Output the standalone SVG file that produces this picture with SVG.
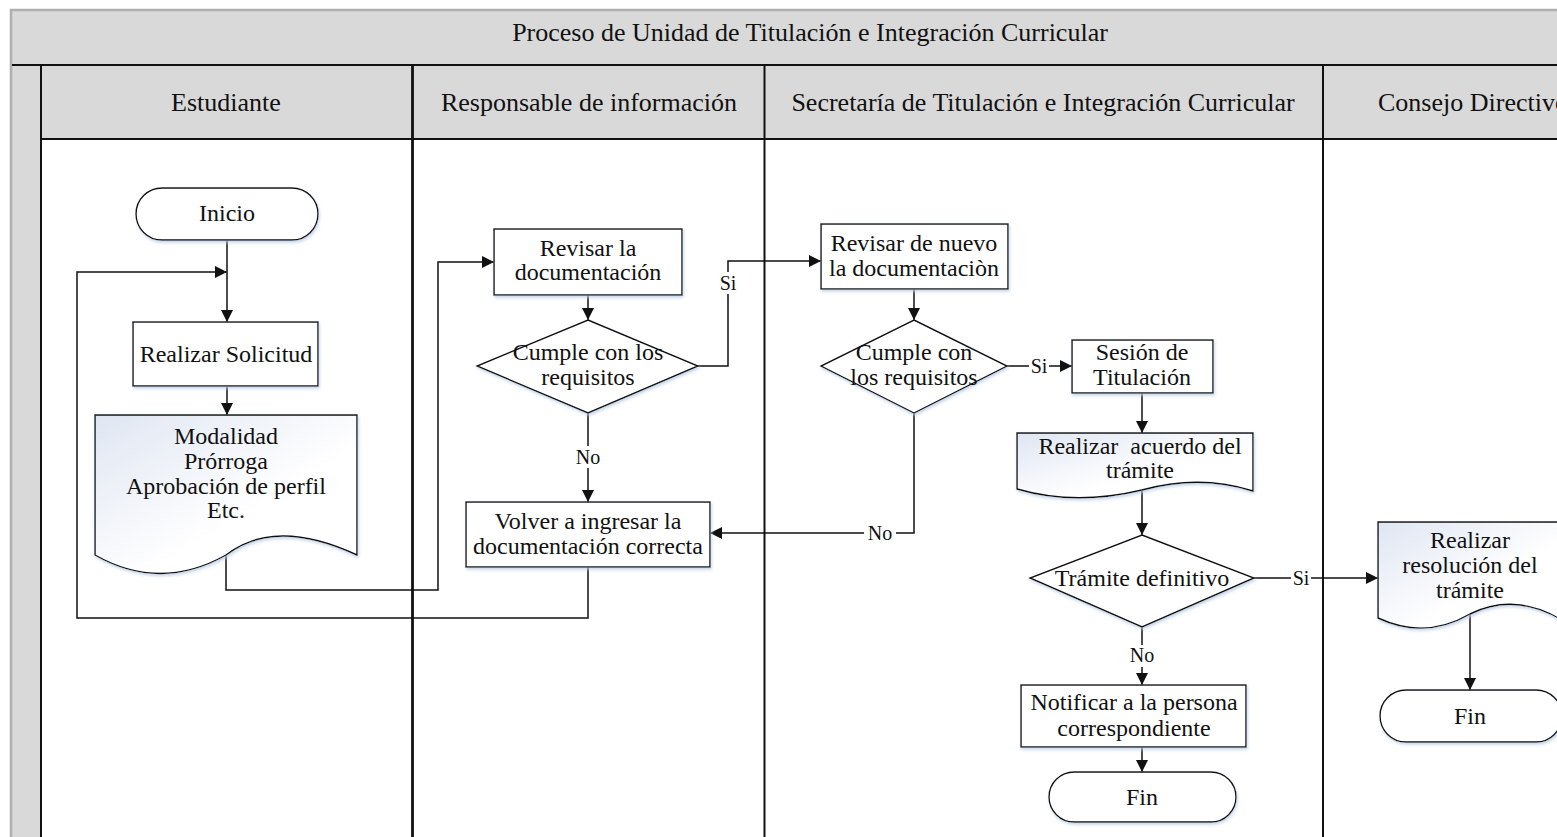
<svg xmlns="http://www.w3.org/2000/svg" width="1557" height="837" viewBox="0 0 1557 837">
<style>
text{font-family:"Liberation Serif","Times New Roman",serif;font-size:24px;fill:#111;text-anchor:middle}
.h{font-size:26px}
.lbl{font-size:20px}
.hdr{fill:#d9d9d9}
.shape{fill:#fff;stroke:#111;stroke-width:1.4;filter:url(#sh)}
.doc{fill:url(#docg);stroke:#111;stroke-width:1.4;filter:url(#sh)}
.conn path{fill:none;stroke:#111;stroke-width:1.5}
.lane{stroke:#111;fill:none}
.bg{fill:#fff}
</style>
<defs>
<linearGradient id="docg" x1="0" y1="0" x2="1" y2="1">
<stop offset="0" stop-color="#dfe6f2"/>
<stop offset="0.6" stop-color="#ffffff"/>
</linearGradient>
<filter id="sh" x="-10%" y="-10%" width="120%" height="130%">
<feDropShadow dx="1" dy="2" stdDeviation="1.5" flood-color="#b8cbe4" flood-opacity="0.8"/>
</filter>
<marker id="arr" markerUnits="userSpaceOnUse" markerWidth="12" markerHeight="12" refX="12" refY="6" orient="auto">
<path d="M0,0 L12,6 L0,12 z" fill="#111"/>
</marker>
</defs>
<rect width="1557" height="837" fill="#fff"/>
<g id="pool">
<rect x="11" y="10" width="1550" height="830" class="hdr" stroke="#b0b0b0" stroke-width="2.5"/>
<rect x="41" y="139" width="1520" height="700" fill="#fff"/>
<rect x="41" y="65" width="1520" height="74" class="hdr"/>
<line x1="12" y1="65" x2="1557" y2="65" class="lane" stroke-width="2"/>
<line x1="41" y1="139" x2="1557" y2="139" class="lane" stroke-width="2"/>
<line x1="41" y1="65" x2="41" y2="837" class="lane" stroke-width="2"/>
<line x1="412.5" y1="65" x2="412.5" y2="837" class="lane" stroke-width="2.8"/>
<line x1="764.5" y1="65" x2="764.5" y2="837" class="lane" stroke-width="2"/>
<line x1="1323" y1="65" x2="1323" y2="837" class="lane" stroke-width="2"/>
<text class="h" x="810" y="41">Proceso de Unidad de Titulación e Integración Curricular</text>
<text class="h" x="226" y="111">Estudiante</text>
<text class="h" x="589" y="111">Responsable de información</text>
<text class="h" x="1043" y="111">Secretaría de Titulación e Integración Curricular</text>
<text class="h" x="1378" y="111" style="text-anchor:start">Consejo Directivo</text>
</g>
<g id="connectors" class="conn">
<path d="M227,240 V322" marker-end="url(#arr)"/>
<path d="M588,567 V618 H77 V272 H227" marker-end="url(#arr)"/>
<path d="M227,386 V415" marker-end="url(#arr)"/>
<path d="M226,555 V590 H438 V262 H494" marker-end="url(#arr)"/>
<path d="M588,295 V320" marker-end="url(#arr)"/>
<path d="M698,366 H728 V261 H821" marker-end="url(#arr)"/>
<path d="M588,413 V502" marker-end="url(#arr)"/>
<path d="M914,289 V320" marker-end="url(#arr)"/>
<path d="M1007,366 H1072" marker-end="url(#arr)"/>
<path d="M914,413 V533 H710" marker-end="url(#arr)"/>
<path d="M1142,393 V433" marker-end="url(#arr)"/>
<path d="M1142,490 V535" marker-end="url(#arr)"/>
<path d="M1254,578 H1378" marker-end="url(#arr)"/>
<path d="M1142,627 V685" marker-end="url(#arr)"/>
<path d="M1142,747 V772" marker-end="url(#arr)"/>
<path d="M1470,614 V690" marker-end="url(#arr)"/>
<rect class="bg" x="718" y="272" width="20" height="22"/>
<text class="lbl" x="728" y="290">Si</text>
<rect class="bg" x="572" y="446" width="32" height="22"/>
<text class="lbl" x="588" y="464">No</text>
<rect class="bg" x="1029" y="355" width="20" height="22"/>
<text class="lbl" x="1039" y="373">Si</text>
<rect class="bg" x="864" y="522" width="32" height="22"/>
<text class="lbl" x="880" y="540">No</text>
<rect class="bg" x="1291" y="567" width="20" height="22"/>
<text class="lbl" x="1301" y="585">Si</text>
<rect class="bg" x="1126" y="645" width="32" height="22"/>
<text class="lbl" x="1142" y="662">No</text>
</g>
<g id="inicio">
<rect class="shape" x="136" y="188" width="182" height="52" rx="26"/>
<text x="227" y="221">Inicio</text>
</g>
<g id="realizar-solicitud">
<rect class="shape" x="133" y="322" width="185" height="64"/>
<text x="226" y="362">Realizar Solicitud</text>
</g>
<g id="doc-modalidad">
<path class="doc" d="M95,415 H357 V555 Q275,517 226,555 Q160,592 95,555 Z"/>
<text x="226" y="444">Modalidad</text>
<text x="226" y="469">Prórroga</text>
<text x="226" y="494">Aprobación de perfil</text>
<text x="226" y="518">Etc.</text>
</g>
<g id="revisar-doc">
<rect class="shape" x="494" y="229" width="188" height="66"/>
<text x="588" y="256">Revisar la</text>
<text x="588" y="280">documentación</text>
</g>
<g id="cumple-1">
<path class="shape" d="M588,320 L698,366 L588,413 L477,366 Z"/>
<text x="588" y="360">Cumple con los</text>
<text x="588" y="385">requisitos</text>
</g>
<g id="volver">
<rect class="shape" x="466" y="502" width="244" height="65"/>
<text x="588" y="529">Volver a ingresar la</text>
<text x="588" y="554">documentación correcta</text>
</g>
<g id="revisar-nuevo">
<rect class="shape" x="821" y="224" width="187" height="65"/>
<text x="914" y="251">Revisar de nuevo</text>
<text x="914" y="276">la documentaciòn</text>
</g>
<g id="cumple-2">
<path class="shape" d="M914,320 L1007,366 L914,413 L821,366 Z"/>
<text x="914" y="360">Cumple con</text>
<text x="914" y="385">los requisitos</text>
</g>
<g id="sesion">
<rect class="shape" x="1072" y="340" width="141" height="53"/>
<text x="1142" y="360">Sesión de</text>
<text x="1142" y="385">Titulación</text>
</g>
<g id="doc-acuerdo">
<path class="doc" d="M1017,433 H1253 V491 Q1200,474 1142,490 Q1075,506 1017,489 Z"/>
<text x="1140" y="454" xml:space="preserve">Realizar  acuerdo del</text>
<text x="1140" y="478">trámite</text>
</g>
<g id="tramite">
<path class="shape" d="M1142,535 L1254,578 L1142,627 L1030,578 Z"/>
<text x="1142" y="586">Trámite definitivo</text>
</g>
<g id="notificar">
<rect class="shape" x="1021" y="685" width="225" height="62"/>
<text x="1134" y="710">Notificar a la persona</text>
<text x="1134" y="736">correspondiente</text>
</g>
<g id="fin-1">
<rect class="shape" x="1049" y="772" width="187" height="50" rx="25"/>
<text x="1142" y="805">Fin</text>
</g>
<g id="doc-resolucion">
<path class="doc" d="M1378,522 H1562 V620 Q1515,592 1470,614 Q1425,640 1378,618 Z"/>
<text x="1470" y="548">Realizar</text>
<text x="1470" y="573">resolución del</text>
<text x="1470" y="598">trámite</text>
</g>
<g id="fin-2">
<rect class="shape" x="1380" y="690" width="182" height="52" rx="26"/>
<text x="1470" y="724">Fin</text>
</g>
</svg>
